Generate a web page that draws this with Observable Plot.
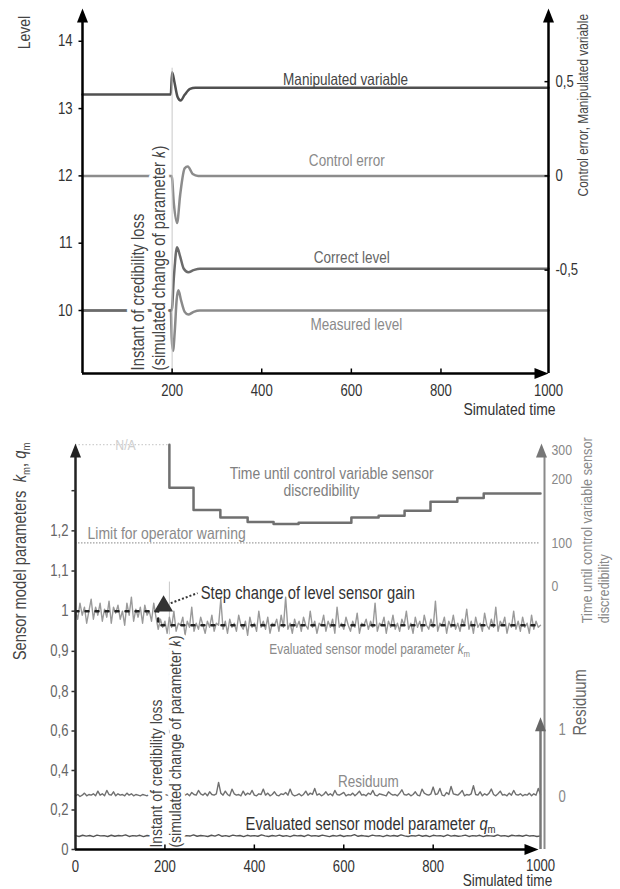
<!DOCTYPE html>
<html><head><meta charset="utf-8">
<script src="https://cdn.jsdelivr.net/npm/d3@7"></script>
<script src="https://cdn.jsdelivr.net/npm/@observablehq/plot@0.6"></script>
<style>
body{margin:0;background:#fff;}
#chart{width:620px;}
svg{display:block;}
</style></head><body><div id="chart"></div>
<script>
const FONT = '"Liberation Sans", Arial, sans-serif';
const NARROW = 0.82; // horizontal condensing to imitate a narrow face

// ---------- shared ----------
const tEnd = 1040;
const simTicks = [200, 400, 600, 800];
const simEndLabel = "1000";
const simLabel = "Simulated time";
const instantLine1 = "Instant of credibility loss";
const instantLine2 = "(simulated change of parameter *k*)";

// ---------- top chart data ----------
const levelTicks = [10, 11, 12, 13, 14];
const ctrlTicks = [0.5, 0, -0.5];
const manipT = [0, 197, 200, 205, 212, 219, 228, 240, 252, 1040];
const manipV = [0.432, 0.432, 0.55, 0.50, 0.42, 0.40, 0.43, 0.462, 0.468, 0.468];
const errT = [0, 199, 204, 211, 218, 228, 235, 246, 258, 1040];
const errV = [0, 0, -0.15, -0.25, -0.10, 0.04, 0.05, 0.01, 0, 0];
const correctT = [0, 199, 204, 211, 218, 226, 236, 248, 262, 1040];
const correctV = [10, 10, 10.5, 10.94, 10.8, 10.62, 10.57, 10.6, 10.62, 10.62];
const measuredT = [0, 197, 199, 202, 206, 210, 214, 220, 228, 236, 248, 262, 1040];
const measuredV = [10, 10, 9.6, 9.4, 9.7, 10.15, 10.3, 10.15, 9.98, 9.94, 9.98, 10, 10];

// ---------- bottom chart data ----------
const paramTicks = [0, 0.2, 0.4, 0.6, 0.8, 0.9, 1, 1.1, 1.2, 1.3];
const paramLabels = [0, 0.2, 0.4, 0.6, 0.8, 0.9, 1, 1.1, 1.2];
const bottomXTicks = [0, 200, 400, 600, 800];
const timeTicks = [0, 100, 200, 300];
const resTicks = [0, 1];
const kStep = 5, resStep = 5, qStep = 8;
const kTrueT = [0, 185, 185, 1040];
const kTrueV = [1.0, 1.0, 0.965, 0.965];
const discT = [210, 210, 264, 324, 385, 443, 499, 617, 678, 736, 794, 854, 913, 1040];
const discV = [320, 187, 152, 140, 133, 130, 132, 140, 143, 151, 165, 171, 178, 178];
const naLevel = 320;
const warnLimit = 100;
const kM = [
 1.00,0.98,1.02,0.99,1.01,0.97,1.00,1.03,0.98,1.01,
 0.99,1.02,0.975,1.005,0.985,1.025,0.97,1.01,0.995,1.015,
 0.98,1.00,0.965,1.02,0.99,1.035,0.975,1.005,0.985,1.01,
 0.97,1.015,0.99,1.00,0.975,1.02,0.985,0.955,0.98,0.96,
 0.975,0.945,0.985,0.96,1.00,0.95,0.97,0.965,0.985,0.94,
 0.975,0.96,1.01,0.95,0.97,0.955,0.985,0.965,0.945,0.975,
 0.96,0.99,0.95,0.97,0.965,1.03,0.955,0.975,0.945,0.98,
 0.96,0.97,0.95,0.99,0.965,0.955,0.975,0.94,0.985,0.96,
 0.97,0.95,1.00,0.96,0.975,0.955,0.985,0.945,0.97,0.965,
 0.98,0.95,0.99,0.96,1.035,0.955,0.97,0.945,0.98,0.96,
 0.975,0.95,0.985,0.965,0.955,1.00,0.96,0.975,0.945,0.97,
 0.965,0.99,0.95,0.975,0.96,0.98,0.945,1.01,0.96,0.97,
 0.955,0.985,0.965,0.95,0.975,0.96,0.995,0.945,0.97,0.965,
 0.98,0.955,0.975,0.96,1.02,0.95,0.97,0.965,0.985,0.945,
 0.975,0.96,0.99,0.955,0.97,0.95,0.98,0.965,1.00,0.955,
 0.97,0.945,0.985,0.96,0.975,0.95,0.99,0.965,0.955,0.98,
 0.96,1.025,0.95,0.97,0.965,0.985,0.945,0.975,0.96,0.99,
 0.955,0.97,0.95,0.98,0.965,1.005,0.955,0.975,0.945,0.985,
 0.96,0.97,0.95,0.995,0.965,0.955,0.98,0.96,1.01,0.95,
 0.975,0.965,0.985,0.945,0.97,0.96,1.00,0.955,0.975,0.95,
 0.985,0.96,0.97,0.945,0.99,0.955,0.975,0.96,0.965];
const residuum = [
 0.02,0.04,0.01,0.03,0.06,0.02,0.04,0.03,0.05,0.02,
 0.09,0.03,0.05,0.02,0.10,0.04,0.03,0.08,0.02,0.05,
 0.03,0.04,0.02,0.06,0.03,0.05,0.02,0.04,0.03,0.02,
 0.04,0.03,0.02,0.05,0.03,0.04,0.02,0.03,0.05,0.02,
 0.04,0.03,0.02,0.05,0.03,0.06,0.02,0.04,0.08,0.03,
 0.05,0.02,0.07,0.04,0.03,0.10,0.05,0.03,0.06,0.02,
 0.08,0.04,0.03,0.05,0.22,0.06,0.03,0.09,0.04,0.02,
 0.12,0.05,0.03,0.04,0.02,0.09,0.03,0.06,0.04,0.10,
 0.03,0.02,0.05,0.04,0.12,0.03,0.06,0.02,0.04,0.08,
 0.03,0.02,0.05,0.04,0.07,0.03,0.12,0.04,0.02,0.03,
 0.05,0.02,0.04,0.09,0.03,0.06,0.04,0.13,0.03,0.05,
 0.02,0.04,0.08,0.03,0.05,0.02,0.10,0.04,0.03,0.05,
 0.07,0.02,0.04,0.03,0.06,0.02,0.05,0.09,0.03,0.04,
 0.02,0.06,0.04,0.10,0.03,0.02,0.05,0.04,0.03,0.02,
 0.08,0.05,0.03,0.04,0.02,0.06,0.11,0.04,0.03,0.05,
 0.02,0.04,0.08,0.03,0.02,0.12,0.06,0.04,0.03,0.05,
 0.15,0.04,0.05,0.13,0.03,0.02,0.07,0.04,0.16,0.05,
 0.04,0.03,0.06,0.10,0.02,0.04,0.03,0.05,0.17,0.04,
 0.03,0.08,0.02,0.05,0.03,0.06,0.12,0.04,0.02,0.05,
 0.09,0.03,0.04,0.02,0.06,0.03,0.10,0.04,0.03,0.05,
 0.02,0.04,0.03,0.06,0.02,0.05,0.03,0.13,0.04];
const qM = [
 0.070,0.066,0.072,0.068,0.071,0.065,0.073,0.069,0.070,0.066,
 0.072,0.067,0.071,0.069,0.074,0.066,0.070,0.068,0.072,0.065,
 0.071,0.069,0.067,0.072,0.068,0.070,0.066,0.073,0.069,0.071,
 0.065,0.070,0.068,0.074,0.067,0.071,0.069,0.066,0.072,0.068,
 0.075,0.067,0.070,0.066,0.073,0.069,0.071,0.065,0.072,0.068,
 0.070,0.067,0.074,0.069,0.066,0.071,0.068,0.073,0.067,0.070,
 0.065,0.072,0.069,0.071,0.066,0.074,0.068,0.070,0.067,0.073,
 0.069,0.065,0.071,0.068,0.072,0.066,0.070,0.069,0.075,0.067,
 0.071,0.068,0.066,0.073,0.069,0.070,0.065,0.072,0.068,0.071,
 0.067,0.074,0.069,0.066,0.070,0.068,0.073,0.067,0.071,0.065,
 0.072,0.069,0.070,0.066,0.074,0.068,0.071,0.067,0.069,0.073,
 0.066,0.070,0.068,0.072,0.065,0.071,0.069,0.067,0.074,0.068,
 0.070,0.066,0.072,0.069,0.071,0.067,0.073,0.068,0.070,0.066,
 0.069];

// ---------- helpers ----------
const arrowUp = {draw(c){ c.moveTo(0,0); c.lineTo(-5.5,14); c.lineTo(5.5,14); c.closePath(); }};
const arrowRight = {draw(c){ c.moveTo(0,0); c.lineTo(-14,-5.5); c.lineTo(-14,5.5); c.closePath(); }};
const tickUp = {draw(c){ c.moveTo(0,0); c.lineTo(0,-5); }};
const tickLeft = {draw(c){ c.moveTo(0,0); c.lineTo(-4,0); }};
const comma = d => String(Math.round(d * 10) / 10).replace(".", ",");
const pairs = (T, V, f = v => v) => T.map((t, i) => ({t, v: f(V[i])}));
const sampled = (V, step, f = v => v) => V.map((v, i) => ({t: i * step, v: f(v)}));

function richify(svg) {
  const ns = "http://www.w3.org/2000/svg";
  svg.querySelectorAll("text").forEach(el => {
    const s = el.textContent;
    if (!/[*_]/.test(s)) return;
    el.textContent = "";
    let shifted = false;
    s.split(/(\*[^*]+\*|_[a-z])/).forEach(p => {
      if (!p) return;
      const ts = document.createElementNS(ns, "tspan");
      if (p[0] === "*") { ts.textContent = p.slice(1, -1); ts.setAttribute("font-style", "italic"); if (shifted) { ts.setAttribute("dy", "-0.2em"); shifted = false; } }
      else if (p[0] === "_") { ts.textContent = p.slice(1); ts.setAttribute("font-size", "65%"); ts.setAttribute("dy", "0.3em"); shifted = true; }
      else { ts.textContent = p; if (shifted) { ts.setAttribute("dy", "-0.2em"); shifted = false; } }
      el.appendChild(ts);
    });
  });
  return svg;
}
function condense(svg) {
  svg.querySelectorAll("text").forEach(el => {
    const L = el.getComputedTextLength();
    if (L > 0) { el.setAttribute("textLength", (L * NARROW).toFixed(1)); el.setAttribute("lengthAdjust", "spacingAndGlyphs"); }
  });
}

// ---------- top chart ----------
const ctrlToLevel = r => 12 + r * 2.8;
function topChart() {
  const yMin = 9.064, yMax = 14.487;
  const T = {fontSize: 16, fill: "#333"};
  return Plot.plot({
    width: 620, height: 425,
    marginLeft: 82, marginRight: 72, marginTop: 8, marginBottom: 52,
    x: {domain: [0, tEnd], range: [82, 548], axis: null},
    y: {domain: [yMin, yMax], range: [373, 8], axis: null},
    style: {fontFamily: FONT, background: "white", overflow: "visible"},
    marks: [
      Plot.line(pairs(measuredT, measuredV), {x: "t", y: "v", stroke: "#8a8a8a", strokeWidth: 2.5, curve: "monotone-x"}),
      Plot.line(pairs(correctT, correctV), {x: "t", y: "v", stroke: "#6b6b6b", strokeWidth: 2.5, curve: "monotone-x"}),
      Plot.line(pairs(errT, errV, ctrlToLevel), {x: "t", y: "v", stroke: "#8c8c8c", strokeWidth: 2.5, curve: "monotone-x"}),
      Plot.line(pairs(manipT, manipV, ctrlToLevel), {x: "t", y: "v", stroke: "#505050", strokeWidth: 2.5, curve: "monotone-x"}),
      Plot.text(["Manipulated variable"], {x: 587, y: 13.43, fontSize: 16.5, fill: "#444"}),
      Plot.text(["Control error"], {x: 590, y: 12.23, fontSize: 16.5, fill: "#8a8a8a"}),
      Plot.text(["Correct level"], {x: 601, y: 10.79, fontSize: 16.5, fill: "#666"}),
      Plot.text(["Measured level"], {x: 611, y: 9.79, fontSize: 16.5, fill: "#8a8a8a"}),
      Plot.text([instantLine1], {x: 125, y: 9.11, rotate: -90, textAnchor: "start", fontSize: 18, fill: "#444", stroke: "white", strokeWidth: 8}),
      Plot.text([instantLine2], {x: 172, y: 9.11, rotate: -90, textAnchor: "start", fontSize: 18, fill: "#444", stroke: "white", strokeWidth: 8}),
      Plot.ruleX([200], {y1: yMin, y2: 13.6, stroke: "#c8c8c8", strokeWidth: 1}),
      // axes
      Plot.ruleX([0, tEnd], {y1: yMin, y2: yMax - 0.1, stroke: "black", strokeWidth: 2.5}),
      Plot.ruleY([yMin], {x1: 0, x2: tEnd - 20, stroke: "black", strokeWidth: 2.5}),
      Plot.dot([0, tEnd], {x: d => d, y: yMax, symbol: arrowUp, fill: "black", stroke: "none"}),
      Plot.dot([tEnd], {x: d => d, y: yMin, symbol: arrowRight, fill: "black", stroke: "none"}),
      Plot.dot(levelTicks, {x: 0, y: d => d, symbol: tickLeft, fill: "none", stroke: "black", strokeWidth: 1.5}),
      Plot.dot(ctrlTicks, {x: tEnd, y: ctrlToLevel, symbol: tickLeft, fill: "none", stroke: "black", strokeWidth: 1.5}),
      Plot.dot(simTicks, {x: d => d, y: yMin, symbol: tickUp, fill: "none", stroke: "black", strokeWidth: 1.5}),
      Plot.text(levelTicks, {x: 0, y: d => d, text: d => String(d), textAnchor: "end", dx: -10, ...T}),
      Plot.text(ctrlTicks, {x: tEnd, y: ctrlToLevel, text: comma, textAnchor: "start", dx: 7, ...T}),
      Plot.text(simTicks, {x: d => d, y: yMin, text: d => String(d), dy: 17, ...T}),
      Plot.text([simEndLabel], {x: tEnd, y: yMin, dy: 17, ...T}),
      Plot.text([simLabel], {x: 953, y: yMin, dy: 36, fontSize: 17, fill: "#333"}),
      Plot.text(["Level"], {x: -130, y: 14.13, rotate: -90, fontSize: 17, fill: "#444"}),
      Plot.text(["Control error, Manipulated variable"], {x: 1118, y: 13.05, rotate: -90, fontSize: 14.5, fill: "#444"})
    ]
  });
}

// ---------- bottom chart ----------
const timeToParam = d3.scaleLinear().domain([0, 100, 200, 300]).range([1.0625, 1.17, 1.3275, 1.4]);
const resToParam = r => 0.265 + r * 0.34;
function bottomChart() {
  const yTop = 1.4175;
  const T = {fontSize: 16, fill: "#333"};
  return Plot.plot({
    width: 620, height: 464,
    marginLeft: 75, marginRight: 80, marginTop: 18, marginBottom: 40,
    x: {domain: [0, tEnd], range: [75, 540], axis: null},
    y: {type: "linear", domain: [0, 0.8, yTop], range: [424, 266, 18], axis: null},
    style: {fontFamily: FONT, background: "white", overflow: "visible"},
    marks: [
      Plot.ruleY([timeToParam(naLevel)], {x1: 0, x2: discT[0], stroke: "#cfcfcf", strokeWidth: 1.2, strokeDasharray: "1.5,2"}),
      Plot.text(["N/A"], {x: 112, y: timeToParam(naLevel), fontSize: 15, fill: "#cfcfcf"}),
      Plot.ruleY([timeToParam(warnLimit)], {x1: 0, x2: tEnd, stroke: "#a0a0a0", strokeWidth: 1.3, strokeDasharray: "1.5,1.5"}),
      Plot.text(["Limit for operator warning"], {x: 27, y: 1.1925, textAnchor: "start", fontSize: 17, fill: "#8a8a8a"}),
      Plot.line(pairs(discT, discV, timeToParam), {x: "t", y: "v", curve: "step-after", stroke: "#707070", strokeWidth: 2.5}),
      Plot.text(["Time until control variable sensor"], {x: 573, y: 1.3425, fontSize: 17, fill: "#808080"}),
      Plot.text(["discredibility"], {x: 550, y: 1.30, fontSize: 17, fill: "#808080"}),
      Plot.ruleX([discT[0]], {y1: 0, y2: 1.0725, stroke: "#c8c8c8", strokeWidth: 1}),
      Plot.line(sampled(kM, kStep), {x: "t", y: "v", stroke: "#9a9a9a", strokeWidth: 1.4}),
      Plot.line(pairs(kTrueT, kTrueV), {x: "t", y: "v", stroke: "#222", strokeWidth: 2.5, strokeDasharray: "3,7"}),
      Plot.link([0], {x1: 213, y1: 1.02, x2: 273, y2: 1.045, stroke: "#333", strokeWidth: 2, strokeDasharray: "2,2"}),
      Plot.dot([0], {x: 197, y: 1.0125, symbol: "triangle", r: 7, fill: "#333", stroke: "none"}),
      Plot.text(["Step change of level sensor gain"], {x: 280, y: 1.045, textAnchor: "start", fontSize: 18, fill: "#333"}),
      Plot.text(["Evaluated sensor model parameter *k*_m"], {x: 658, y: 0.905, fontSize: 14.5, fill: "#8a8a8a"}),
      Plot.line(sampled(residuum, resStep, resToParam), {x: "t", y: "v", stroke: "#707070", strokeWidth: 1.4}),
      Plot.text(["Residuum"], {x: 655, y: 0.345, fontSize: 16.5, fill: "#8a8a8a"}),
      Plot.line(sampled(qM, qStep), {x: "t", y: "v", stroke: "#555", strokeWidth: 1.4}),
      Plot.text(["Evaluated sensor model parameter *q*_m"], {x: 660, y: 0.13, fontSize: 18, fill: "#333"}),
      Plot.text([instantLine1], {x: 181, y: 0.01, rotate: -90, textAnchor: "start", fontSize: 17, fill: "#444", stroke: "white", strokeWidth: 8}),
      Plot.text([instantLine2], {x: 224, y: 0.01, rotate: -90, textAnchor: "start", fontSize: 17, fill: "#444", stroke: "white", strokeWidth: 8}),
      // right axes
      Plot.ruleX([tEnd], {y1: 0, y2: yTop - 0.03, dx: 4, stroke: "#8a8a8a", strokeWidth: 2}),
      Plot.dot([tEnd], {x: d => d, y: yTop, dx: 1, symbol: arrowUp, fill: "#777", stroke: "none"}),
      Plot.ruleX([tEnd], {y1: 0, y2: resToParam(1.12), stroke: "#777", strokeWidth: 2.5}),
      Plot.dot([tEnd], {x: d => d, y: resToParam(1.19), symbol: arrowUp, fill: "#666", stroke: "none"}),
      Plot.text(timeTicks, {x: tEnd, y: timeToParam, text: d => String(d), textAnchor: "start", dx: 11, fontSize: 15, fill: "#888"}),
      Plot.text(resTicks, {x: tEnd, y: resToParam, text: d => String(d), textAnchor: "start", dx: 18, fontSize: 16, fill: "#888"}),
      Plot.text(["Time until control variable sensor"], {x: 1145, y: 0.97, rotate: -90, textAnchor: "start", fontSize: 15.5, fill: "#8a8a8a"}),
      Plot.text(["discredibility"], {x: 1181, y: 0.97, rotate: -90, textAnchor: "start", fontSize: 15.5, fill: "#8a8a8a"}),
      Plot.text(["Residuum"], {x: 1129, y: 0.745, rotate: -90, fontSize: 18, fill: "#666"}),
      // left + bottom axes
      Plot.ruleX([0], {y1: 0, y2: yTop - 0.03, stroke: "#222", strokeWidth: 2.5}),
      Plot.dot([0], {x: 0, y: yTop, symbol: arrowUp, fill: "#222", stroke: "none"}),
      Plot.ruleY([0], {x1: 0, x2: tEnd - 25, stroke: "black", strokeWidth: 2.5}),
      Plot.dot([0], {x: tEnd, y: 0, dx: -2, symbol: arrowRight, fill: "black", stroke: "none"}),
      Plot.dot(paramTicks, {x: 0, y: d => d, symbol: tickLeft, fill: "none", stroke: "#333", strokeWidth: 1.5}),
      Plot.dot(simTicks, {x: d => d, y: 0, symbol: tickUp, fill: "none", stroke: "black", strokeWidth: 1.5}),
      Plot.text(paramLabels, {x: 0, y: d => d, text: comma, textAnchor: "end", dx: -7, fontSize: 16, fill: "#666"}),
      Plot.text(bottomXTicks, {x: d => d, y: 0, text: d => String(d), dy: 17, ...T}),
      Plot.text([simEndLabel], {x: tEnd, y: 0, dy: 16, ...T}),
      Plot.text([simLabel], {x: 966, y: 0, dy: 31, fontSize: 16.5, fill: "#333"}),
      Plot.text(["Sensor model parameters  *k*_m, *q*_m"], {x: -123, y: 0.8775, rotate: -90, textAnchor: "start", fontSize: 18, fill: "#444"})
    ]
  });
}

const root = document.getElementById("chart");
const svgTop = richify(topChart());
const svgBottom = richify(bottomChart());
root.appendChild(svgTop);
root.appendChild(svgBottom);
condense(svgTop);
condense(svgBottom);
</script>
</body></html>
